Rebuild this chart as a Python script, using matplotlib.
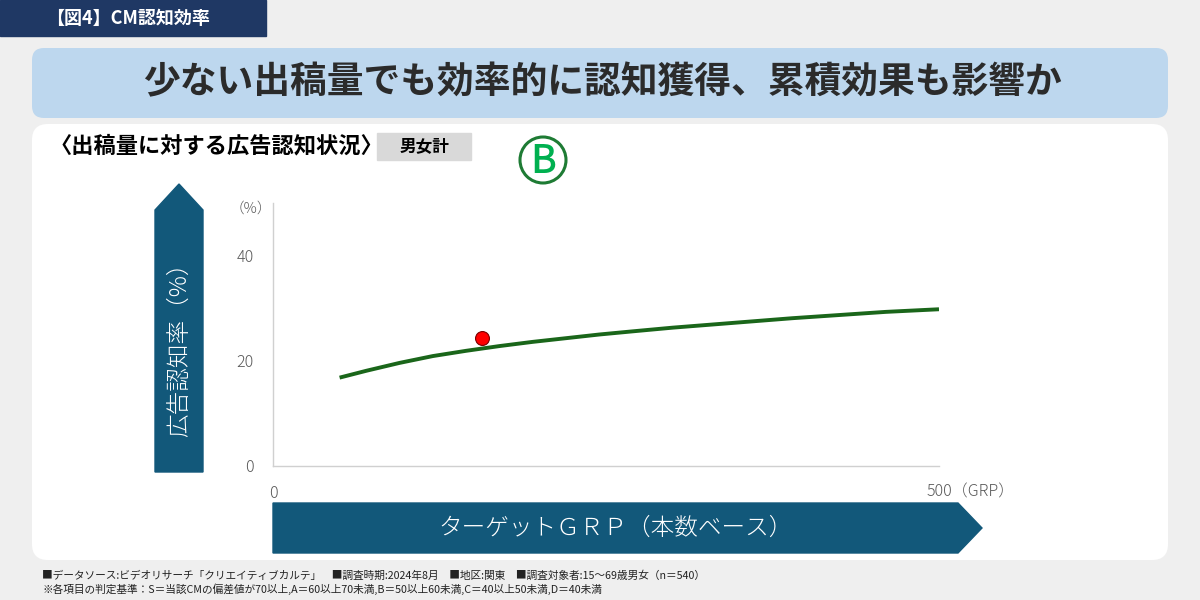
import matplotlib

matplotlib.use("Agg")
import matplotlib.pyplot as plt
from matplotlib.patches import Circle, FancyBboxPatch, Polygon, Rectangle

plt.rcParams["font.family"] = ["Noto Sans CJK JP", "DejaVu Sans"]

# data
grp = [50, 70, 95, 120, 145, 170, 195, 220, 245, 270, 300, 330, 360, 390, 425, 460, 500]
recognition = [16.8, 18.1, 19.6, 20.9, 21.9, 22.8, 23.6, 24.3, 25.0, 25.6, 26.3,
               26.9, 27.5, 28.1, 28.7, 29.3, 29.8]
point_grp = [157]
point_recognition = [24.3]
y_ticks = [0, 20, 40]
x_ticks = [0, 500]
x_tick_labels = ["0", "500（GRP）"]

header = "【図4】CM認知効率"
title = "少ない出稿量でも効率的に認知獲得、累積効果も影響か"
subtitle = "〈出稿量に対する広告認知状況〉"
segment = "男女計"
rank = "B"
y_caption = "広告認知率（%）"
x_caption = "ターゲットＧＲＰ（本数ベース）"
notes = [
    "■データソース:ビデオリサーチ「クリエイティブカルテ」　■調査時期:2024年8月　■地区:関東　■調査対象者:15～69歳男女（n＝540）",
    "※各項目の判定基準：S＝当該CMの偏差値が70以上,A＝60以上70未満,B＝50以上60未満,C＝40以上50未満,D＝40未満",
]

NAVY = "#1F3864"
ARROW = "#12587A"
TICK = "#595959"
fig = plt.figure(figsize=(12, 6), dpi=100)
fig.patch.set_facecolor("#EFEFEF")

# pixel-space canvas for the decoration
bg = fig.add_axes([0, 0, 1, 1])
bg.set_xlim(0, 1200)
bg.set_ylim(600, 0)
bg.axis("off")

bg.add_patch(Rectangle((0, 0), 266, 36, color=NAVY))
bg.text(46, 18, header, color="white", fontsize=13, fontweight="bold", va="center")

bg.add_patch(FancyBboxPatch((32, 48), 1136, 70, boxstyle="round,pad=0,rounding_size=12",
                            facecolor="#BDD7EE", edgecolor="none"))
bg.text(602, 83, title, color="#2B2B2B", fontsize=26.5, fontweight="bold", ha="center", va="center")

bg.add_patch(FancyBboxPatch((32, 124), 1136, 436, boxstyle="round,pad=0,rounding_size=16",
                            facecolor="white", edgecolor="none"))
bg.text(50, 146, subtitle, color="black", fontsize=16, fontweight="bold", va="center")
bg.add_patch(Rectangle((377, 133), 94, 27, color="#D9D9D9"))
bg.text(424, 146, segment, color="black", fontsize=12, fontweight="bold", ha="center", va="center")

bg.add_patch(Circle((543, 160), 23, facecolor="none", edgecolor="#1E7B34", linewidth=2.2))
bg.text(543, 162, rank, color="#00B050", fontsize=28, fontweight="medium",
        ha="center", va="center")

# vertical arrow
bg.add_patch(Polygon([(155, 472), (155, 210), (179, 184), (203, 210), (203, 472)],
                     closed=True, color=ARROW))
bg.text(179, 344, y_caption, color="white", fontsize=17, rotation=90,
        ha="center", va="center", fontweight="light")

# horizontal arrow
bg.add_patch(Polygon([(273, 503), (958, 503), (982, 528), (958, 553), (273, 553)],
                     closed=True, color=ARROW))
bg.text(616, 528, x_caption, color="white", fontsize=17, ha="center", va="center",
        fontweight="light")

for i, line in enumerate(notes):
    bg.text(42, 576 + i * 13, line, color="#222222", fontsize=7.7, va="center")

# chart
ax = fig.add_axes([273 / 1200, 134 / 600, 666 / 1200, 263 / 600])
ax.patch.set_alpha(0)
ax.plot(grp, recognition, color="#1A661A", linewidth=2.8, solid_capstyle="butt")
ax.plot(point_grp, point_recognition, "o", color="#FF0000", markersize=10,
        markeredgecolor="#7A0000", markeredgewidth=0.8)
ax.set_xlim(0, 500)
ax.set_ylim(0, 50)
ax.set_yticks(y_ticks)
ax.set_xticks(x_ticks)
ax.set_xticklabels([x_tick_labels[0], ""])
ax.tick_params(length=0, colors=TICK, labelsize=11.5)
ax.tick_params(axis="y", pad=14)
ax.tick_params(axis="x", pad=14)
for label in ax.get_xticklabels() + ax.get_yticklabels():
    label.set_fontweight("light")
# the last x label starts a little left of its tick, as in the source slide
ax.text(x_ticks[1] - 9, -0.1, x_tick_labels[1], transform=ax.get_xaxis_transform(),
        color=TICK, fontsize=11.5, fontweight="light", ha="left", va="center")
for side in ("top", "right"):
    ax.spines[side].set_visible(False)
for side in ("left", "bottom"):
    ax.spines[side].set_color("#D0D0D0")
    ax.spines[side].set_linewidth(1)
ax.text(-17, 49, "（%）", color=TICK, fontsize=10.5, ha="center", va="center",
        fontweight="light")

fig.savefig("out.png", dpi=100)
